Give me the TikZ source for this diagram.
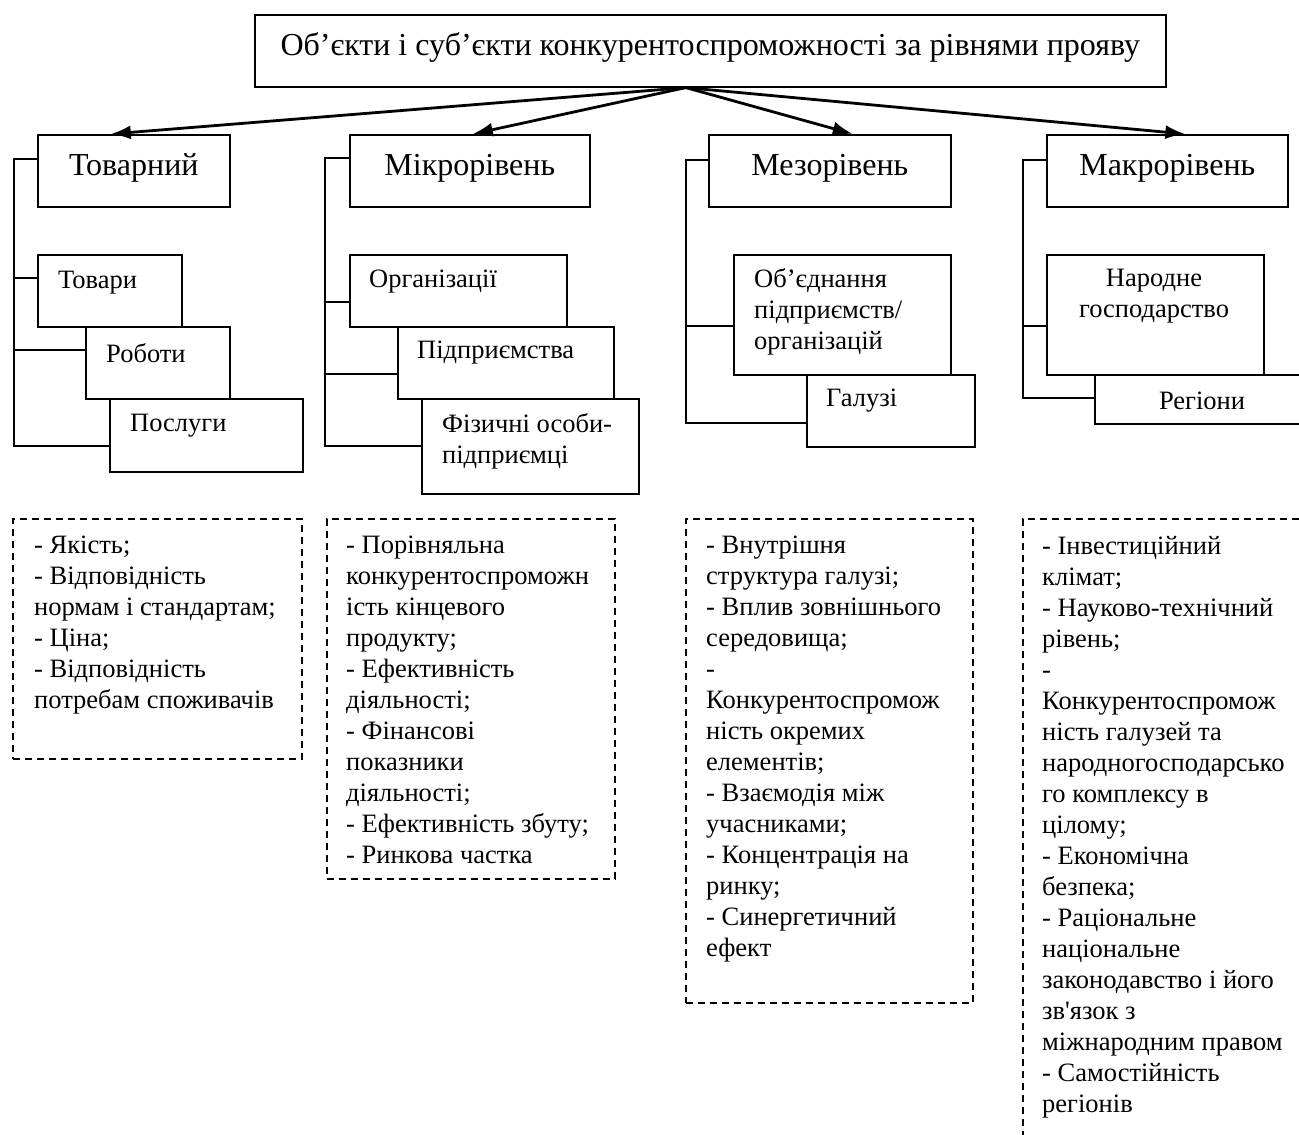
\documentclass[tikz,border=0pt]{standalone}
\usepackage{fontspec}
\setmainfont{Liberation Serif}[Ligatures=TeXOff]
\usetikzlibrary{arrows.meta,calc}
\begin{document}
\begin{tikzpicture}[x=1pt,y=-1pt,
 box/.style={draw,line width=1.6pt,rectangle,inner sep=0pt,anchor=north west},
 dbox/.style={draw,line width=1.6pt,dash pattern=on 7pt off 5pt,rectangle,inner sep=0pt,anchor=north west},
 big/.style={font=\fontsize{32}{37}\selectfont,text height=22pt,text depth=12pt},
 sm/.style={font=\fontsize{26.5}{31}\selectfont,inner sep=0pt},
 lst/.style={font=\fontsize{26.5}{31}\selectfont,anchor=north west,align=left,inner sep=0pt},
 arr/.style={line width=2.8pt,-{Latex[length=20pt,width=14pt]}},
 brk/.style={line width=1.6pt}]
\clip (0,0) rectangle (1299,1135);
\fill[white] (0,0) rectangle (1299,1135);
% title
\node[box,big,minimum width=911pt,minimum height=72pt] (title) at (254,14) {Об’єкти і суб’єкти конкурентоспроможності за рівнями прояву};
% level boxes
\node[box,big,minimum width=192pt,minimum height=72pt] (tov) at (37,134) {Товарний};
\node[box,big,minimum width=240pt,minimum height=72pt] (mik) at (349,134) {Мікрорівень};
\node[box,big,minimum width=242pt,minimum height=72pt] (mez) at (708,134) {Мезорівень};
\node[box,big,minimum width=241pt,minimum height=72pt] (mak) at (1046,134) {Макрорівень};
% arrows
\coordinate (src) at ($(title.south)+(-24.5,0)$);
\draw[arr] (src) -- ($(tov.north)+(-23,0)$);
\draw[arr] (src) -- ($(mik.north)+(3,0)$);
\draw[arr] (src) -- ($(mez.north)+(23,0)$);
\draw[arr] (src) -- ($(mak.north)+(18,0)$);
% Tovarnyi sub-boxes
\node[box,minimum width=144pt,minimum height=72pt] (tovari) at (37,254) {};
\node[sm,anchor=west] (tovarit) at (58,283) {Товари};
\node[box,minimum width=144pt,minimum height=72pt] (roboty) at (85,326) {};
\node[sm,anchor=west] (robotyt) at (106,353) {Роботи};
\node[box,minimum width=193pt,minimum height=73pt] (poslugy) at (109,398) {};
\node[sm,anchor=west] (poslugyt) at (130,426) {Послуги};
\coordinate (b1a) at (14,159);
\coordinate (b1b) at (14,278);
\coordinate (b1c) at (14,350);
\coordinate (b1d) at (14,446);
\draw[brk] (tov.west |- b1a) -- (b1a) -- (b1d) -- (poslugy.west |- b1d);
\draw[brk] (b1b) -- (tovari.west |- b1b);
\draw[brk] (b1c) -- (roboty.west |- b1c);
% Mikro sub-boxes
\node[box,minimum width=217pt,minimum height=72pt] (org) at (349,254) {};
\node[sm,anchor=west] (orgt) at (369,282) {Організації};
\node[box,minimum width=216pt,minimum height=72pt] (pidp) at (397,326) {};
\node[sm,anchor=west] (pidpt) at (417,353) {Підприємства};
\node[box,minimum width=217pt,minimum height=95pt] (fiz) at (421,398) {};
\node[sm,anchor=west,align=left] (fizt) at (442,441.5) {Фізичні особи-\\підприємці};
\coordinate (b2a) at (325,158);
\coordinate (b2b) at (325,302);
\coordinate (b2c) at (325,374);
\coordinate (b2d) at (325,446);
\draw[brk] (mik.west |- b2a) -- (b2a) -- (b2d) -- (fiz.west |- b2d);
\draw[brk] (b2b) -- (org.west |- b2b);
\draw[brk] (b2c) -- (pidp.west |- b2c);
% Mezo sub-boxes
\node[box,minimum width=217pt,minimum height=120pt] (ob) at (733,254) {};
\node[sm,anchor=west,align=left] (obt) at (754,312) {Об’єднання\\підприємств/\\організацій};
\node[box,minimum width=168pt,minimum height=72pt] (gal) at (806,374) {};
\node[sm,anchor=west] (galt) at (826,401) {Галузі};
\coordinate (b3a) at (686,160);
\coordinate (b3b) at (686,326);
\coordinate (b3c) at (686,423);
\draw[brk] (mez.west |- b3a) -- (b3a) -- (b3c) -- (gal.west |- b3c);
\draw[brk] (b3b) -- (ob.west |- b3b);
% Makro sub-boxes
\node[box,minimum width=217pt,minimum height=120pt] (nar) at (1046,254) {};
\node[sm,align=center] (nart) at (1154,296) {Народне\\господарство};
\node[box,minimum width=240pt,minimum height=49pt] (reg) at (1094,374) {};
\node[sm] (regt) at (1202,401) {Регіони};
\coordinate (b4a) at (1023,160);
\coordinate (b4b) at (1023,326);
\coordinate (b4c) at (1023,398);
\draw[brk] (mak.west |- b4a) -- (b4a) -- (b4c) -- (reg.west |- b4c);
\draw[brk] (b4b) -- (nar.west |- b4b);
% dashed boxes
\node[dbox,minimum width=289pt,minimum height=240pt] (d1) at (12,518) {};
\node[lst] (d1t) at (34,536) {- Якість;\\- Відповідність\\нормам і стандартам;\\- Ціна;\\- Відповідність\\потребам споживачів};
\node[dbox,minimum width=288pt,minimum height=360pt] (d2) at (326,518) {};
\node[lst] (d2t) at (346,536) {- Порівняльна\\конкурентоспроможн\\ість кінцевого\\продукту;\\- Ефективність\\діяльності;\\- Фінансові\\показники\\діяльності;\\- Ефективність збуту;\\- Ринкова частка};
\node[dbox,minimum width=287pt,minimum height=484pt] (d3) at (685,518) {};
\node[lst] (d3t) at (706,536) {- Внутрішня\\структура галузі;\\- Вплив зовнішнього\\середовища;\\-\\Конкурентоспромож\\ність окремих\\елементів;\\- Взаємодія між\\учасниками;\\- Концентрація на\\ринку;\\- Синергетичний\\ефект};
\node[dbox,minimum width=400pt,minimum height=700pt] (d4) at (1022,518) {};
\node[lst] (d4t) at (1042,536) {- Інвестиційний\\клімат;\\- Науково-технічний\\рівень;\\-\\Конкурентоспромож\\ність галузей та\\народногосподарсько\\го комплексу в\\цілому;\\- Економічна\\безпека;\\- Раціональне\\національне\\законодавство і його\\зв'язок з\\міжнародним правом\\- Самостійність\\регіонів};
\end{tikzpicture}
\end{document}
